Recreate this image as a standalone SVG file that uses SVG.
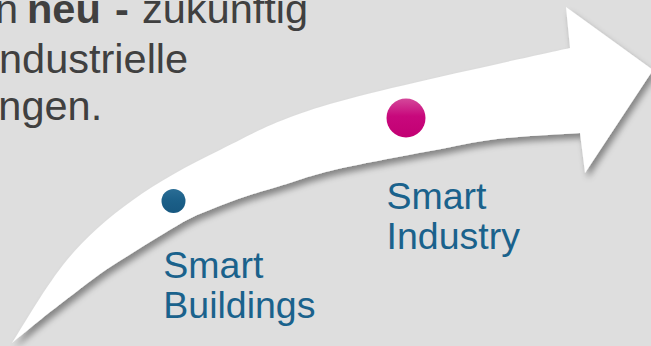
<svg xmlns="http://www.w3.org/2000/svg" width="651" height="346" viewBox="0 0 651 346">
  <defs>
    <filter id="shadow" x="-10%" y="-10%" width="130%" height="130%">
      <feDropShadow dx="3" dy="5" stdDeviation="3" flood-color="#000" flood-opacity="0.4"/>
    </filter>
    <linearGradient id="pinkGrad" x1="0" y1="0" x2="0" y2="1">
      <stop offset="0" stop-color="#d4489a"/>
      <stop offset="0.45" stop-color="#c8087c"/>
      <stop offset="1" stop-color="#c20073"/>
    </linearGradient>
    <linearGradient id="blueGrad" x1="0" y1="0" x2="0" y2="1">
      <stop offset="0" stop-color="#2a6d95"/>
      <stop offset="0.5" stop-color="#1b5f88"/>
      <stop offset="1" stop-color="#175880"/>
    </linearGradient>
  </defs>
  <style>
    .body { font-family: "Liberation Sans", Arial, sans-serif; font-size: 41.5px; fill: #404040; }
    .bold { font-weight: bold; }
    .label { font-family: "Liberation Sans", Arial, sans-serif; font-size: 37.5px; fill: #1a628c; }
  </style>
  <rect width="651" height="346" fill="#dedede"/>

  <g id="intro-text">
    <text class="body" x="-5" y="23">n <tspan class="bold" x="27">neu</tspan> <tspan class="bold" x="115">-</tspan> <tspan x="142">zukünftig</tspan></text>
    <text class="body" x="-1" y="72.5">ndustrielle</text>
    <text class="body" x="-1.7" y="119.5">ngen.</text>
  </g>

  <g id="arrow">
    <path filter="url(#shadow)" fill="#ffffff" d="M12,343 C21,329 47,284 67,260 C87,236 108,218 133,200 C158,182 187,166 220,150 C253,134 272,121 330,104 C388,87 530,57 570,48 L566,7 L653,70 L585,173 L580,133 C566,134 522,136 497,139 C472,142 458,146 430,151 C402,156 355,165 330,171 C305,177 297,181 280,186 C263,191 246,196 230,202 C215,208 200,213 187,220 C174,227 165,233 150,242 C136,251 117,262 100,274 C83,286 65,301 50,312 C35,324 18,338 12,343 Z"/>
  </g>

  <g id="smart-buildings">
    <circle cx="173.5" cy="201" r="12" fill="url(#blueGrad)"/>
    <text class="label" x="163.3" y="278.3">Smart</text>
    <text class="label" x="163.3" y="318.3">Buildings</text>
  </g>

  <g id="smart-industry">
    <circle cx="406" cy="118" r="19.5" fill="url(#pinkGrad)"/>
    <text class="label" x="386.5" y="209.3">Smart</text>
    <text class="label" x="386.5" y="249.3">Industry</text>
  </g>

  <g id="connectors"/>
</svg>
